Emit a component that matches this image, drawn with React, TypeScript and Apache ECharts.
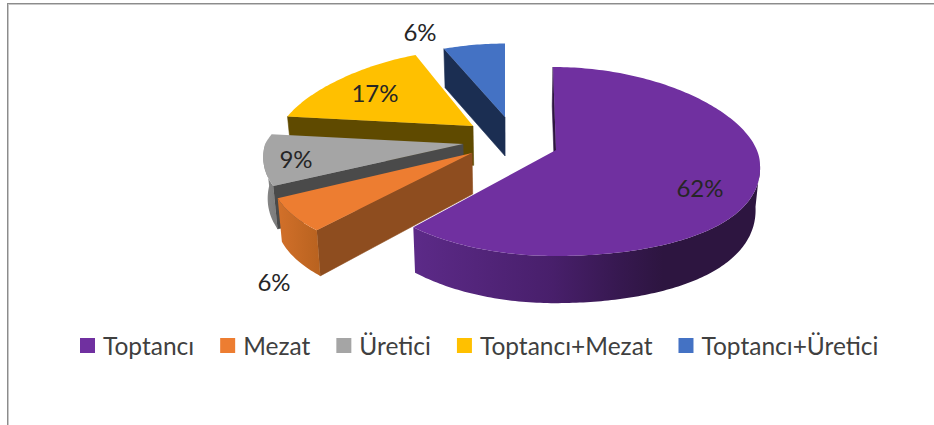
import React, { useEffect, useRef } from "react";
import * as echarts from "echarts";

const categories = ["Toptancı", "Mezat", "Üretici", "Toptancı+Mezat", "Toptancı+Üretici"];
const values = [62, 6, 9, 17, 6];

const topColors = ["#7030A0", "#ED7D31", "#A5A5A5", "#FFC000", "#4472C4"];
const cutColors = ["#2D1540", "#8E4D1F", "#4A4A4A", "#5F4A00", "#1B2E52"];
const sideStops = [
  [[0, "#5C2A88"], [0.4, "#481F6B"], [0.6, "#36184F"], [0.72, "#2D1540"], [1, "#2D1540"]],
  [[0, "#D2702A"], [1, "#B8621F"]],
  [[0, "#8A8A8A"], [1, "#7A7A7A"]],
  [[0, "#8F6C00"], [1, "#8F6C00"]],
  [[0, "#2A4478"], [1, "#2A4478"]],
];
// Projection of each exploded slice: explosion offset, scale, perspective growth near / shrink far
const explodeX = [0, -84, -93, -83, -51];
const explodeY = [0, 3, -6, -24, -33];
const scaleX = [1, 0.97, 0.97, 0.94, 1];
const scaleY = [1, 1, 0.93, 0.92, 0.885];
const nearGrow = [0.03, 0.2, 0.14, 0, 0];
const farShrink = [0, 0, 0.2, 0.2, 0.2];
const bulge = [15, 0, 0, 0, 0];
const lean = [3, 0, 0, 0, 0];
const labelX = [700, 274, 296, 375, 420];
const labelY = [187, 281, 158, 92, 31];

const CX = 556, CY = 150, RX = 204, RFAR = 83, RNEAR = 106;
const total = values.reduce((a, b) => a + b, 0);
const VANISH_X = 510;

function renderSlice(i: number) {
  return (_params: any, api: any) => {
    const v = api.value(0);
    let before = 0;
    for (let k = 0; k < i; k++) before += values[k];
    const a0 = -90 + (before / total) * 360;
    const a1 = a0 + (v / total) * 360;
    const ax = CX + explodeX[i], ay = CY + explodeY[i];
    const rim = (deg: number) => {
      const t = (deg * Math.PI) / 180, c = Math.cos(t), s = Math.sin(t);
      const f = s > 0 ? 1 + nearGrow[i] * s : 1 + farShrink[i] * s;
      const x = ax + RX * scaleX[i] * f * c + (s < 0 ? lean[i] * s * s * s : 0);
      const y = ay + (s > 0 ? RNEAR : RFAR) * scaleY[i] * s + (c > 0 ? bulge[i] * c * c : 0);
      return [x, y];
    };
    const drop = (p: number[]) => {
      const h = 39 + 0.06 * Math.max(0, p[1] - 120);
      return [p[0] + (VANISH_X - p[0]) * 0.018, p[1] + h];
    };
    const children: any[] = [];
    const n = Math.max(2, Math.round(a1 - a0));
    const arc: number[][] = [];
    for (let k = 0; k <= n; k++) arc.push(rim(a0 + ((a1 - a0) * k) / n));
    // cut face on the leading edge, when it faces the viewer
    if (-Math.cos((a0 * Math.PI) / 180) > -1e-9) {
      const p = rim(a0);
      children.push({
        type: "polygon",
        shape: { points: [[ax, ay], p, drop(p), drop([ax, ay])] },
        style: { fill: cutColors[i], stroke: cutColors[i], lineWidth: 0.6 },
      });
    }
    // outer wall, only the part turned towards the viewer
    const near: number[][] = [];
    for (let k = 0; k <= n; k++) {
      const d = a0 + ((a1 - a0) * k) / n;
      if (Math.sin((d * Math.PI) / 180) >= 0) near.push(rim(d));
    }
    if (near.length > 1) {
      children.push({
        type: "polygon",
        shape: { points: near.concat(near.map(drop).reverse()) },
        style: {
          fill: new echarts.graphic.LinearGradient(
            0, 0, 1, 0,
            sideStops[i].map((s: any) => ({ offset: s[0], color: s[1] }))
          ),
        },
      });
    }
    children.push({
      type: "polygon",
      shape: { points: [[ax, ay]].concat(arc) },
      style: { fill: topColors[i] },
    });
    children.push({
      type: "text",
      style: {
        text: Math.round((v / total) * 100) + "%",
        x: labelX[i],
        y: labelY[i],
        align: "center",
        verticalAlign: "middle",
        font: "24px Lato",
        fill: "#262626",
      },
      z2: 10,
    });
    return { type: "group", children };
  };
}

export default function App() {
  const ref = useRef<HTMLDivElement>(null);
  useEffect(() => {
    document.body.style.margin = "0";
    const chart = echarts.init(ref.current!, undefined, { renderer: "svg" });
    const order = [4, 3, 2, 1, 0];
    chart.setOption({
      animation: false,
      backgroundColor: "#ffffff",
      legend: {
        data: categories.map((name) => ({ name, icon: "rect" })),
        left: 80,
        top: 333,
        padding: 0,
        itemWidth: 15,
        itemHeight: 15,
        itemGap: 26,
        selectedMode: false,
        textStyle: { fontFamily: "Lato", fontSize: 24.5, color: "#404040", padding: [0, 0, 2, 3] },
      },
      graphic: [
        { type: "line", shape: { x1: 7.5, y1: 3.5, x2: 7.5, y2: 425 }, style: { stroke: "#8c8c8c", lineWidth: 1 } },
        { type: "line", shape: { x1: 8.5, y1: 4.5, x2: 8.5, y2: 425 }, style: { stroke: "#c8c8c8", lineWidth: 1 } },
        { type: "line", shape: { x1: 7, y1: 3.5, x2: 934, y2: 3.5 }, style: { stroke: "#8c8c8c", lineWidth: 1 } },
        { type: "line", shape: { x1: 8, y1: 4.5, x2: 934, y2: 4.5 }, style: { stroke: "#c8c8c8", lineWidth: 1 } },
      ],
      series: order.map((i, idx) => ({
        type: "custom",
        coordinateSystem: "none",
        name: categories[i],
        z: 2 + idx,
        itemStyle: { color: topColors[i] },
        renderItem: renderSlice(i),
        data: [[values[i]]],
      })),
    });
    return () => chart.dispose();
  }, []);
  return <div ref={ref} style={{ width: 934, height: 425 }} />;
}
